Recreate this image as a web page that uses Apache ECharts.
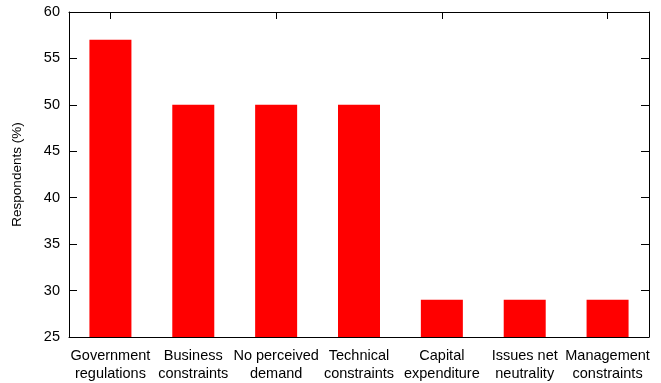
<!DOCTYPE html>
<html>
<head>
<meta charset="utf-8">
<script src="https://cdn.jsdelivr.net/npm/echarts@6/dist/echarts.min.js"></script>
<style>
html,body{margin:0;padding:0;background:#fff;}
#chart{width:661px;height:383px;}
</style>
</head>
<body>
<div id="chart"></div>
<script>
// Reasons reported as barriers, share of respondents
const categories = [
  'Government\nregulations',
  'Business\nconstraints',
  'No perceived\ndemand',
  'Technical\nconstraints',
  'Capital\nexpenditure',
  'Issues net\nneutrality',
  'Management\nconstraints'
];
const respondents = [57, 50, 50, 50, 29, 29, 29];
const yMin = 25, yMax = 60, yStep = 5;

const FONT = 'Liberation Sans, Arial, sans-serif';
const axisLine = { show: true, lineStyle: { color: '#000', width: 1 } };

const chart = echarts.init(document.getElementById('chart'), null, { renderer: 'canvas' });
chart.setOption({
  animation: false,
  backgroundColor: '#fff',
  grid: { left: 69, right: 12, top: 12, bottom: 45, containLabel: false },
  xAxis: [
    {
      type: 'category', data: categories, position: 'bottom',
      axisLine: axisLine,
      axisTick: { show: true, inside: true, alignWithLabel: true, length: 7, lineStyle: { color: '#000' } },
      axisLabel: { color: '#000', fontFamily: FONT, fontSize: 14.5, lineHeight: 18, margin: 10, interval: 0 },
      splitLine: { show: false }
    },
    {
      type: 'category', data: categories, position: 'top',
      axisLine: axisLine,
      axisTick: { show: true, inside: true, alignWithLabel: true, length: 7, lineStyle: { color: '#000' } },
      axisLabel: { show: false },
      splitLine: { show: false }
    }
  ],
  yAxis: [
    {
      type: 'value', min: yMin, max: yMax, interval: yStep, position: 'left',
      name: 'Respondents (%)', nameLocation: 'middle', nameGap: 45,
      nameTextStyle: { color: '#000', fontFamily: FONT, fontSize: 13.5 },
      axisLine: axisLine,
      axisTick: { show: true, inside: true, length: 8, lineStyle: { color: '#000' } },
      axisLabel: { color: '#000', fontFamily: FONT, fontSize: 14.5, margin: 9 },
      splitLine: { show: false }
    },
    {
      type: 'value', min: yMin, max: yMax, interval: yStep, position: 'right',
      axisLine: axisLine,
      axisTick: { show: true, inside: true, length: 8, lineStyle: { color: '#000' } },
      axisLabel: { show: false },
      splitLine: { show: false }
    }
  ],
  series: [{
    type: 'bar',
    data: respondents,
    xAxisIndex: 0, yAxisIndex: 0,
    barWidth: 42,
    itemStyle: { color: '#ff0000' }
  }]
});
</script>
</body>
</html>
